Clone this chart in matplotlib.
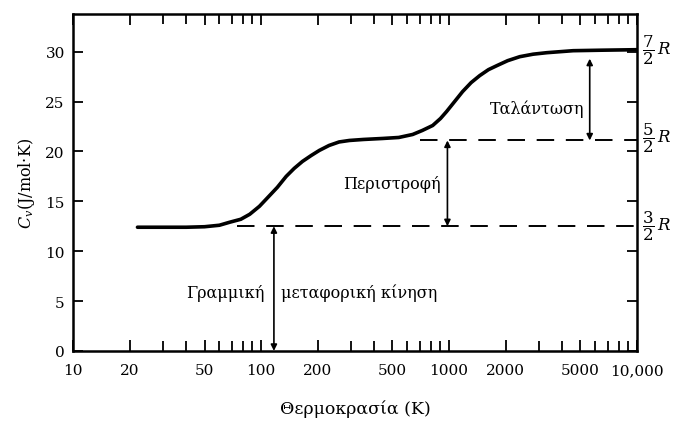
import matplotlib
matplotlib.use("Agg")
import matplotlib.pyplot as plt
from matplotlib.ticker import FixedLocator, NullFormatter
from matplotlib.transforms import blended_transform_factory

plt.rcParams['font.family'] = ['DejaVu Serif']
plt.rcParams['mathtext.fontset'] = 'dejavuserif'

# Data
temperature = [22, 30, 40, 50, 60, 68, 78, 87, 98, 110, 122, 136, 150, 166, 185, 204,
               230, 260, 295, 350, 443, 540, 640, 720, 818, 900, 970, 1070, 1180, 1310,
               1455, 1620, 1795, 2050, 2378, 2800, 3311, 4570, 6500, 10000]
cv = [12.4, 12.4, 12.4, 12.45, 12.6, 12.9, 13.2, 13.7, 14.5, 15.5, 16.4, 17.5, 18.3, 19.0,
      19.6, 20.1, 20.6, 20.95, 21.1, 21.2, 21.3, 21.4, 21.7, 22.1, 22.6, 23.3, 24.0, 25.0,
      26.0, 26.9, 27.6, 28.2, 28.6, 29.1, 29.5, 29.75, 29.9, 30.1, 30.15, 30.2]

xtick_values = [10, 20, 50, 100, 200, 500, 1000, 2000, 5000, 10000]
xtick_labels = ['10', '20', '50', '100', '200', '500', '1000', '2000', '5000', '10,000']
ytick_values = [0, 5, 10, 15, 20, 25, 30]

level_trans = 12.5
level_rot = 21.1
level_vib = 29.3
dash_trans_start = 74
dash_rot_start = 700

arrow_trans_T = 117
arrow_rot_T = 980
arrow_vib_T = 5600

right_labels = [r'$\dfrac{7}{2}\,R$', r'$\dfrac{5}{2}\,R$', r'$\dfrac{3}{2}\,R$']
right_label_levels = [30.2, 21.4, 12.6]

fig = plt.figure(figsize=(6.77, 4.35), dpi=100)
ax = fig.add_axes([0.108, 0.191, 0.833, 0.775])

ax.plot(temperature, cv, color='black', lw=2.6, solid_capstyle='round')

ax.plot([dash_trans_start, 10000], [level_trans, level_trans], color='black', lw=1.4,
        dashes=(9, 6))
ax.plot([dash_rot_start, 10000], [level_rot, level_rot], color='black', lw=1.4,
        dashes=(9, 6))

arrow_kw = dict(arrowstyle='<|-|>', color='black', lw=1.2, mutation_scale=9,
                shrinkA=0, shrinkB=0)
ax.annotate('', xy=(arrow_trans_T, level_trans), xytext=(arrow_trans_T, 0),
            arrowprops=arrow_kw)
ax.annotate('', xy=(arrow_rot_T, level_rot), xytext=(arrow_rot_T, level_trans),
            arrowprops=arrow_kw)
ax.annotate('', xy=(arrow_vib_T, level_vib), xytext=(arrow_vib_T, level_rot),
            arrowprops=arrow_kw)

lab_fs = 11.5
ax.text(104, 5.9, 'Γραμμική', ha='right', va='center', fontsize=lab_fs)
ax.text(127, 5.9, 'μεταφορική κίνηση', ha='left', va='center', fontsize=lab_fs)
ax.text(900, 16.75, 'Περιστροφή', ha='right', va='center', fontsize=lab_fs)
ax.text(5250, 24.3, 'Ταλάντωση', ha='right', va='center', fontsize=lab_fs)

ax.set_xscale('log')
ax.set_xlim(10, 10000)
ax.set_ylim(0, 33.8)

ax.xaxis.set_major_locator(FixedLocator(xtick_values))
ax.set_xticklabels(xtick_labels)
minor_vals = [m * d for d in (10, 100, 1000) for m in (3, 4, 6, 7, 8, 9)]
ax.xaxis.set_minor_locator(FixedLocator(minor_vals))
ax.xaxis.set_minor_formatter(NullFormatter())
ax.set_yticks(ytick_values)

ax.tick_params(axis='both', which='both', direction='in', top=True, right=True,
               width=1.3, labelsize=11, color='black')
ax.tick_params(axis='x', which='major', length=8, pad=9)
ax.tick_params(axis='x', which='minor', length=7)
ax.tick_params(axis='y', which='major', length=7, pad=6)

for s in ax.spines.values():
    s.set_linewidth(1.8)

tr = blended_transform_factory(ax.transAxes, ax.transData)
for lab, lev in zip(right_labels, right_label_levels):
    ax.text(1.009, lev, lab, transform=tr, ha='left', va='center', fontsize=12)

ax.set_xlabel('Θερμοκρασία (K)', fontsize=12.5, labelpad=16)
ax.set_ylabel(r'$C_v$(J/mol·K)', fontsize=11.5, labelpad=6)

fig.savefig('out.png', dpi=100)
